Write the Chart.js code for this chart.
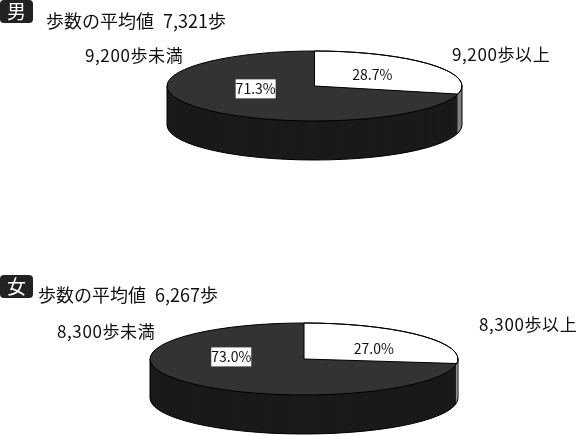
<!DOCTYPE html>
<html lang="ja">
<head>
<meta charset="utf-8">
<title>歩数の平均値</title>
<script src="https://cdn.jsdelivr.net/npm/chart.js@4"></script>
<style>
  html, body { margin: 0; padding: 0; background: #fff; }
  body { position: relative; width: 577px; height: 435px; overflow: hidden; }
  canvas { position: absolute; left: 0; top: 0; }
  .t { position: absolute; white-space: nowrap; color: #111; line-height: 22px; letter-spacing: 0.6px;
       font-family: "Noto Sans CJK JP", sans-serif; font-size: 17px; }
  .title { font-size: 18px; letter-spacing: 0; word-spacing: 5px; }
  .badge { position: absolute; left: 0; width: 33px; height: 23px; background: #222; color: #fff;
           border-radius: 4px; text-align: center; line-height: 21px;
           font-family: "Noto Sans CJK JP", sans-serif; font-size: 19px; }
</style>
</head>
<body>
<canvas id="male" width="577" height="435"></canvas>
<canvas id="female" width="577" height="435"></canvas>

<div class="badge" style="top:0">男</div>
<div class="t title" style="left:46px;top:9px">歩数の平均値 7,321歩</div>
<div class="t" style="left:85px;top:44px">9,200歩未満</div>
<div class="t" style="left:452px;top:43px">9,200歩以上</div>

<div class="badge" style="top:275px">女</div>
<div class="t title" style="left:38px;top:283px">歩数の平均値 6,267歩</div>
<div class="t" style="left:57px;top:320px">8,300歩未満</div>
<div class="t" style="left:479px;top:313px">8,300歩以上</div>

<script>
var categories = ['以上', '未満'];
var maleValues = [28.7, 71.3];
var femaleValues = [27.0, 73.0];

var topColors = ['#ffffff', '#333333'];
var maleSideColors = ['#808080', '#1a1a1a'];
var femaleSideColors = ['#d0d0d0', '#1a1a1a'];

function slicePath(ctx, arc, cy, ry) {
    ctx.beginPath();
    ctx.moveTo(arc.x, cy);
    ctx.ellipse(arc.x, cy, arc.outerRadius, ry, 0, arc.startAngle, arc.endAngle);
    ctx.closePath();
}

// flattens the pie into an ellipse and gives it a side wall
var pie3d = {
    id: 'pie3d',
    beforeDatasetsDraw: function (chart, args, opts) {
        var ctx = chart.ctx;
        var arcs = chart.getDatasetMeta(0).data;
        var x = arcs[0].x, r = arcs[0].outerRadius;
        ctx.save();
        for (var d = opts.depth; d > 0; d--) {
            arcs.forEach(function (arc, i) {
                slicePath(ctx, arc, opts.cy + d, opts.ry);
                ctx.fillStyle = opts.sideColors[i];
                ctx.fill();
            });
        }
        // outline of the wall
        ctx.strokeStyle = '#000';
        ctx.lineWidth = 1;
        ctx.beginPath();
        ctx.moveTo(x + r, opts.cy);
        ctx.lineTo(x + r, opts.cy + opts.depth);
        ctx.ellipse(x, opts.cy + opts.depth, r, opts.ry, 0, 0, Math.PI);
        ctx.lineTo(x - r, opts.cy);
        ctx.stroke();
        ctx.restore();
    },
    beforeDatasetDraw: function (chart, args, opts) {
        var ctx = chart.ctx;
        var arc = chart.getDatasetMeta(0).data[0];
        ctx.save();
        ctx.translate(arc.x, opts.cy);
        ctx.scale(1, opts.ry / arc.outerRadius);
        ctx.translate(-arc.x, -arc.y);
    },
    afterDatasetDraw: function (chart, args, opts) {
        chart.ctx.restore();
    },
    afterDatasetsDraw: function (chart, args, opts) {
        var ctx = chart.ctx;
        var arcs = chart.getDatasetMeta(0).data;
        var values = chart.data.datasets[0].data;
        ctx.save();
        ctx.strokeStyle = '#000';
        ctx.lineWidth = 1;
        // rim of the top face, then the white slice
        ctx.beginPath();
        ctx.ellipse(arcs[0].x, opts.cy, arcs[0].outerRadius, opts.ry, 0, 0, Math.PI * 2);
        ctx.stroke();
        slicePath(ctx, arcs[0], opts.cy, opts.ry);
        ctx.stroke();

        ctx.font = '14px "Noto Sans CJK JP", sans-serif';
        ctx.textAlign = 'center';
        ctx.textBaseline = 'middle';
        arcs.forEach(function (arc, i) {
            var mid = (arc.startAngle + arc.endAngle) / 2;
            var x = arc.x + Math.cos(mid) * arc.outerRadius * 0.5 + opts.nudge[i][0];
            var y = opts.cy + Math.sin(mid) * opts.ry * 0.5 + opts.nudge[i][1];
            var text = values[i].toFixed(1) + '%';
            if (i === 1) {
                ctx.fillStyle = '#fff';
                ctx.fillRect(x - 20, y - 9.5, 40, 19);
            }
            ctx.fillStyle = '#111';
            ctx.fillText(text, x, y);
        });
        ctx.restore();
    }
};

function drawPie(id, values, cx, radius, cy, ry, depth, sideColors, nudge) {
    var ctx = document.getElementById(id).getContext('2d');
    var data = {
        labels: categories,
        datasets: [{
            data: values,
            backgroundColor: topColors,
            borderWidth: 0,
            clip: false
        }]
    };
    var options = {
        responsive: false,
        animation: false,
        devicePixelRatio: 1,
        rotation: 0,
        layout: {
            padding: {
                left: cx - radius,
                right: 577 - cx - radius,
                top: 217.5 - radius,
                bottom: 217.5 - radius
            }
        },
        plugins: {
            legend: { display: false },
            tooltip: { enabled: false },
            pie3d: { cy: cy, ry: ry, depth: depth, sideColors: sideColors, nudge: nudge }
        }
    };
    return new Chart(ctx, { type: 'pie', data: data, options: options, plugins: [pie3d] });
}

drawPie('male', maleValues, 314.5, 147.5, 86, 35, 39, maleSideColors, [[0, 0], [-1, -8]]);
drawPie('female', femaleValues, 304, 154, 359, 36, 39, femaleSideColors, [[12, 2], [-15, -14]]);
</script>
</body>
</html>
